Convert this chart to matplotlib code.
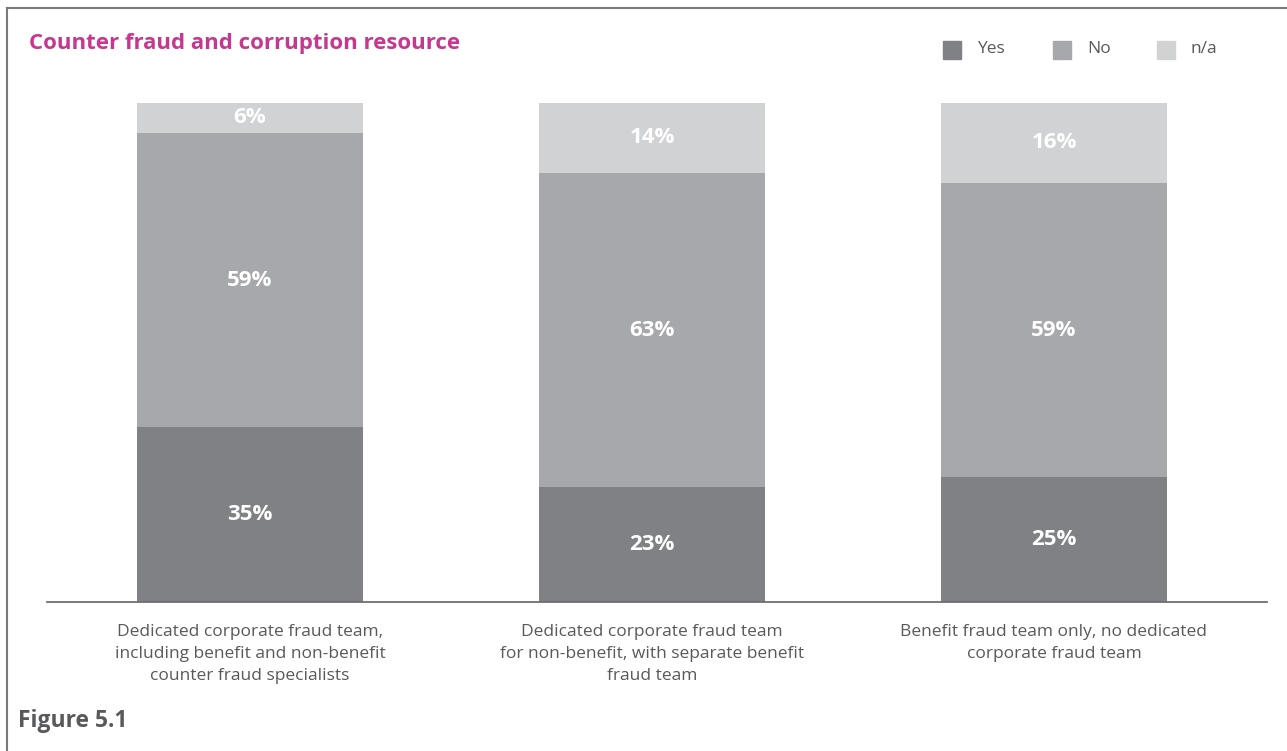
import matplotlib.pyplot as plt
from matplotlib.lines import Line2D
from matplotlib.patches import Rectangle

# Share of responses for each type of counter fraud resource (%)
categories = [
    "Dedicated corporate fraud team,\nincluding benefit and non-benefit\ncounter fraud specialists",
    "Dedicated corporate fraud team\nfor non-benefit, with separate benefit\nfraud team",
    "Benefit fraud team only, no dedicated\ncorporate fraud team",
]
yes = [35, 23, 25]
no = [59, 63, 59]
na = [6, 14, 16]
series_names = ["Yes", "No", "n/a"]
colors = ["#808185", "#a7a8ab", "#d1d2d4"]

plt.rcParams['font.family'] = ['Open Sans', 'DejaVu Sans']

fig = plt.figure(figsize=(12.87, 7.51), dpi=100)
W, H = 1287, 751

# axes placed in pixel units: baseline at y=602, top of 100% at y=103
ax = fig.add_axes([47 / W, (H - 602) / H, (1267 - 47) / W, (602 - 103) / H])
x = [0, 1, 2]
width = 0.562
bottom = [0, 0, 0]
for vals, name, c in zip([yes, no, na], series_names, colors):
    bars = ax.bar(x, vals, width, bottom=bottom, color=c, label=name)
    for xi, b, v in zip(x, bottom, vals):
        ax.text(xi, b + v / 2, f"{v}%", ha='center', va='center',
                color='white', fontsize=16, fontweight='bold')
    bottom = [b + v for b, v in zip(bottom, vals)]

ax.set_xlim(-0.505, 2.53)
ax.set_ylim(0, 100)
for s in ['top', 'right', 'left']:
    ax.spines[s].set_visible(False)
ax.spines['bottom'].set_color('#6d6e71')
ax.spines['bottom'].set_linewidth(1.3)
ax.set_yticks([])
ax.set_xticks(x)
ax.set_xticklabels(categories, fontsize=12.5, color='#58595b', linespacing=1.5)
ax.tick_params(axis='x', length=0, pad=16)

# title and figure label
fig.text(29 / W, 1 - 44 / H, "Counter fraud and corruption resource",
         color='#c7378f', fontsize=16, fontweight='bold', va='center')
fig.text(18 / W, 1 - 721 / H, "Figure 5.1", color='#58595b',
         fontsize=16.5, fontweight='bold', va='center')

# legend drawn as squares with labels
leg_sq = [943, 1053, 1157]
for sx, name, c in zip(leg_sq, series_names, colors):
    fig.add_artist(Rectangle((sx / W, 1 - 59 / H), 18 / W, 18 / H,
                             transform=fig.transFigure, color=c))
    fig.text((sx + 34) / W, 1 - 49 / H, name, color='#58595b',
             fontsize=12.5, va='center')

# frame along the top and left edges
fig.add_artist(Line2D([6.5 / W, 1], [1 - 8 / H, 1 - 8 / H],
                      transform=fig.transFigure, color='#7a7a7a', lw=1.5))
fig.add_artist(Line2D([6.5 / W, 6.5 / W], [0, 1 - 8 / H],
                      transform=fig.transFigure, color='#7a7a7a', lw=1.5))

fig.savefig("out.png", dpi=100)
